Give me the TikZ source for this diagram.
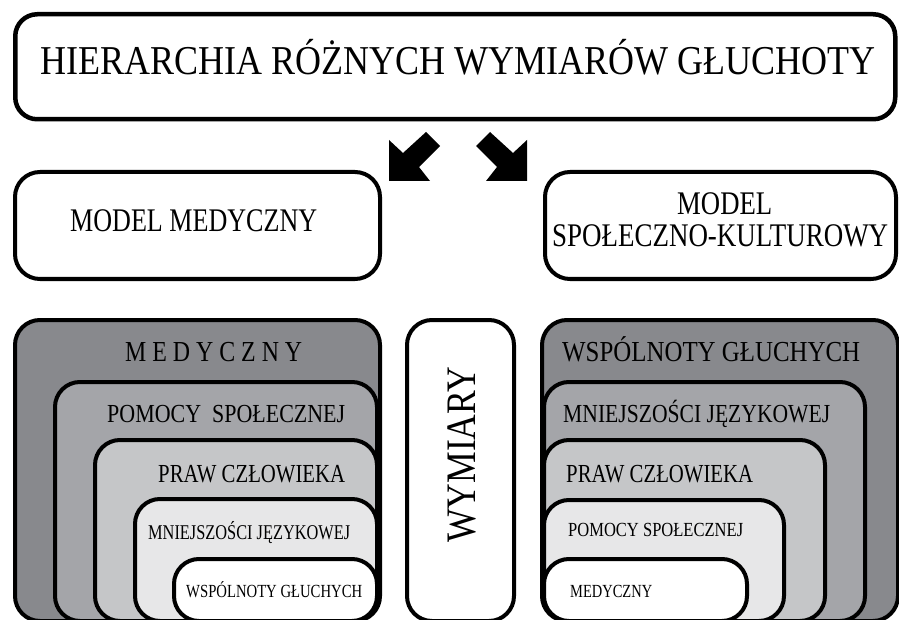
\documentclass[tikz,border=0pt]{standalone}
\usepackage{fontspec}
\setmainfont{Liberation Serif}
\usepackage{graphicx}
\definecolor{lvA}{HTML}{88898D}
\definecolor{lvB}{HTML}{A4A5A9}
\definecolor{lvC}{HTML}{C5C6C8}
\definecolor{lvD}{HTML}{E7E7E8}
\newlength\fitlen
\newcommand\fitw[3]{\settowidth\fitlen{\fontsize{#2pt}{#2pt}\selectfont #3}\pgfmathsetmacro\fitsx{#1/\fitlen}\scalebox{\fitsx}[1]{\fontsize{#2pt}{#2pt}\selectfont #3}}
\tikzset{
  panel/.style={draw=black, line width=4pt, rounded corners=25pt, rectangle, inner sep=0pt, anchor=north west, fill=white},
  lbl/.style={inner sep=0pt, anchor=base west, text=black},
  blockarrow/.style={fill=black, draw=none}
}
\begin{document}
\begin{tikzpicture}[x=1pt,y=-1pt]
\useasboundingbox (0,0) rectangle (899,620);
\clip (0,0) rectangle (899,620);
% top box
\node[panel, rounded corners=22pt, line width=4.5pt, minimum width=880pt, minimum height=105pt] (top) at (13,12) {};
\node[lbl] (toptxt) at (40,75) {\fitw{835}{41}{HIERARCHIA RÓŻNYCH WYMIARÓW GŁUCHOTY}};
% arrows
\coordinate (la) at (0,0);
\fill[blockarrow] (389,140) -- (389,181) -- (430,181) -- (419,167) -- (440,146) -- (426,132) -- (403,153) -- cycle;
\fill[blockarrow] (527,140) -- (527,181) -- (486,181) -- (497,167) -- (476,146) -- (490,132) -- (513,153) -- cycle;
% model boxes
\node[panel, minimum width=365pt, minimum height=107pt] (mmed) at (13,170) {};
\node[lbl] (mmedtxt) at (70,232) {\fitw{247}{33}{MODEL MEDYCZNY}};
\node[panel, minimum width=351pt, minimum height=107pt] (mspo) at (543,170) {};
\node[lbl] (mspotxtA) at (677,215) {\fitw{95}{33}{MODEL}};
\node[lbl] (mspotxtB) at (552,247) {\fitw{336}{33}{SPOŁECZNO-KULTUROWY}};
% left group
\node[panel, fill=lvA, minimum width=365pt, minimum height=301pt] (lA) at (13,318) {};
\node[panel, fill=lvB, minimum width=322pt, minimum height=239pt] (lB) at (53,380) {};
\node[panel, fill=lvC, minimum width=282pt, minimum height=181pt] (lC) at (93,438) {};
\node[panel, fill=lvD, minimum width=242pt, minimum height=122pt] (lD) at (133,497) {};
\node[panel, fill=white, minimum width=203pt, minimum height=62pt] (lE) at (172,557) {};
\node[lbl] (lAt) at (125,361) {\fitw{177}{29}{M E D Y C Z N Y}};
\node[lbl] (lBt) at (107,422) {\fitw{238}{26}{POMOCY\ \ SPOŁECZNEJ}};
\node[lbl] (lCt) at (158,482) {\fitw{187}{26}{PRAW CZŁOWIEKA}};
\node[lbl] (lDt) at (148,539) {\fitw{202}{21}{MNIEJSZOŚCI JĘZYKOWEJ}};
\node[lbl] (lEt) at (186,597) {\fitw{176}{18.5}{WSPÓLNOTY GŁUCHYCH}};
% middle
\node[panel, minimum width=107pt, minimum height=301pt] (wym) at (405,318) {};
\node[lbl, rotate=90] (wymt) at (475,543) {\fitw{176}{42}{WYMIARY}};
% right group
\node[panel, fill=lvA, minimum width=356pt, minimum height=301pt] (rA) at (540,318) {};
\node[panel, fill=lvB, minimum width=321pt, minimum height=239pt] (rB) at (542,380) {};
\node[panel, fill=lvC, minimum width=281pt, minimum height=181pt] (rC) at (542,438) {};
\node[panel, fill=lvD, minimum width=240pt, minimum height=121pt] (rD) at (542,498) {};
\node[panel, fill=white, minimum width=203pt, minimum height=62pt] (rE) at (542,557) {};
\node[lbl] (rAt) at (562,361) {\fitw{298}{29}{WSPÓLNOTY GŁUCHYCH}};
\node[lbl] (rBt) at (563,422) {\fitw{267}{26}{MNIEJSZOŚCI JĘZYKOWEJ}};
\node[lbl] (rCt) at (566,482) {\fitw{187}{26}{PRAW CZŁOWIEKA}};
\node[lbl] (rDt) at (568,536) {\fitw{175}{20}{POMOCY SPOŁECZNEJ}};
\node[lbl] (rEt) at (570,597) {\fitw{82}{18.5}{MEDYCZNY}};
\end{tikzpicture}
\end{document}
